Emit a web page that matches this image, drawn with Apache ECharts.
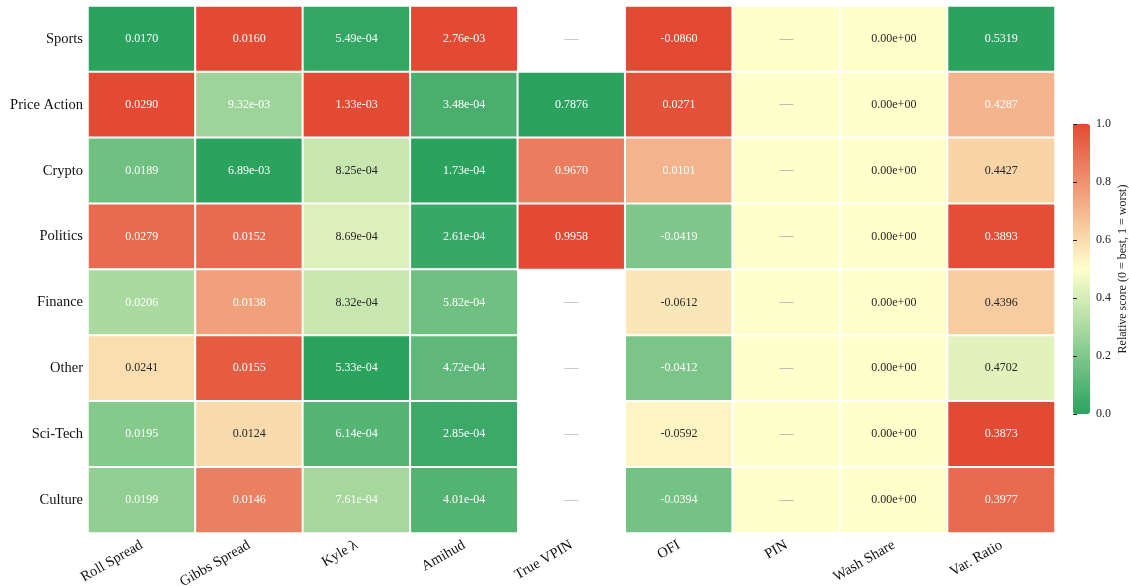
<!DOCTYPE html>
<html>
<head>
    <meta charset="utf-8">
    <title>Relative score heatmap</title>
    <script src="https://cdn.jsdelivr.net/npm/echarts@6/dist/echarts.min.js"></script>
    <style>
        html, body { margin: 0; padding: 0; background: #fff; }
        #chart { width: 1129px; height: 586px; }
    </style>
</head>
<body>
<div id="chart"></div>
<script>
    // rows / columns
    var categories = ['Sports', 'Price Action', 'Crypto', 'Politics', 'Finance', 'Other', 'Sci-Tech', 'Culture'];
    var metrics = ['Roll Spread', 'Gibbs Spread', 'Kyle λ', 'Amihud', 'True VPIN', 'OFI', 'PIN', 'Wash Share', 'Var. Ratio'];

    // printed values, one list per metric (null = no value)
    var rollSpread = ['0.0170', '0.0290', '0.0189', '0.0279', '0.0206', '0.0241', '0.0195', '0.0199'];
    var gibbsSpread = ['0.0160', '9.32e-03', '6.89e-03', '0.0152', '0.0138', '0.0155', '0.0124', '0.0146'];
    var kyleLambda = ['5.49e-04', '1.33e-03', '8.25e-04', '8.69e-04', '8.32e-04', '5.33e-04', '6.14e-04', '7.61e-04'];
    var amihud = ['2.76e-03', '3.48e-04', '1.73e-04', '2.61e-04', '5.82e-04', '4.72e-04', '2.85e-04', '4.01e-04'];
    var trueVpin = [null, '0.7876', '0.9670', '0.9958', null, null, null, null];
    var ofi = ['-0.0860', '0.0271', '0.0101', '-0.0419', '-0.0612', '-0.0412', '-0.0592', '-0.0394'];
    var pin = [null, null, null, null, null, null, null, null];
    var washShare = ['0.00e+00', '0.00e+00', '0.00e+00', '0.00e+00', '0.00e+00', '0.00e+00', '0.00e+00', '0.00e+00'];
    var varRatio = ['0.5319', '0.4287', '0.4427', '0.3893', '0.4396', '0.4702', '0.3873', '0.3977'];

    // relative scores (0 = best, 1 = worst)
    var rollScore = [0, 1, 0.16, 0.91, 0.30, 0.59, 0.21, 0.24];
    var gibbsScore = [1, 0.27, 0, 0.91, 0.76, 0.95, 0.60, 0.85];
    var kyleScore = [0.02, 1, 0.37, 0.42, 0.37, 0, 0.10, 0.29];
    var amihudScore = [1, 0.07, 0, 0.03, 0.16, 0.12, 0.04, 0.09];
    var vpinScore = [null, 0, 0.86, 1, null, null, null, null];
    var ofiScore = [1, 0.98, 0.71, 0.20, 0.57, 0.19, 0.53, 0.17];
    var pinScore = [0.5, 0.5, 0.5, 0.5, 0.5, 0.5, 0.5, 0.5];
    var washScore = [0.5, 0.5, 0.5, 0.5, 0.5, 0.5, 0.5, 0.5];
    var varRatioScore = [0, 0.71, 0.62, 0.99, 0.64, 0.43, 1, 0.91];

    var textCols = [rollSpread, gibbsSpread, kyleLambda, amihud, trueVpin, ofi, pin, washShare, varRatio];
    var scoreCols = [rollScore, gibbsScore, kyleScore, amihudScore, vpinScore, ofiScore, pinScore, washScore, varRatioScore];

    var FONT = '"Liberation Serif", "Times New Roman", "DejaVu Serif", serif';
    var DASH = '#a8a8a8';

    var heatData = [], missData = [];
    metrics.forEach(function (m, i) {
        categories.forEach(function (c, j) {
            var s = scoreCols[i][j], t = textCols[i][j];
            if (s == null) {
                missData.push({ value: [i, j], label: { color: DASH, fontSize: 14 } });
                return;
            }
            if (t == null) {
                heatData.push({ value: [i, j, s], label: { color: DASH, fontSize: 14 } });
                return;
            }
            var col = Math.abs(s - 0.5) > 0.17 ? '#ffffff' : '#262626';
            heatData.push({ value: [i, j, s], label: { color: col } });
        });
    });

    function cellLabel(p) {
        var t = textCols[p.value[0]][p.value[1]];
        return t == null ? '—' : t;
    }

    var chart = echarts.init(document.getElementById('chart'), null, { renderer: 'canvas' });
    chart.setOption({
        animation: false,
        textStyle: { fontFamily: FONT },
        grid: [
            { left: 88, right: 74, top: 6, bottom: 53, outerBoundsMode: 'none', containLabel: false },
            { left: 1073, width: 17, top: 124, height: 290, outerBoundsMode: 'none', containLabel: false }
        ],
        xAxis: [{
            type: 'category',
            data: metrics,
            gridIndex: 0,
            axisLine: { show: false },
            axisTick: { show: false },
            splitLine: { show: false },
            axisLabel: { rotate: 30, margin: 11, fontSize: 14.5, color: '#111', fontFamily: FONT, interval: 0 }
        }, {
            type: 'value',
            gridIndex: 1,
            show: false
        }],
        yAxis: [{
            type: 'category',
            data: categories,
            inverse: true,
            gridIndex: 0,
            axisLine: { show: false },
            axisTick: { show: false },
            splitLine: { show: false },
            axisLabel: { margin: 5, fontSize: 14.5, color: '#111', fontFamily: FONT }
        }, {
            type: 'value',
            gridIndex: 1,
            position: 'right',
            min: 0,
            max: 1,
            interval: 0.2,
            z: 10,
            axisLine: { show: false },
            axisTick: { show: true, inside: false, length: 4, lineStyle: { color: '#222', width: 1 } },
            splitLine: { show: false },
            axisLabel: {
                margin: 6, fontSize: 12, color: '#222', fontFamily: FONT,
                formatter: function (v) { return v.toFixed(1); }
            },
            name: 'Relative score (0 = best, 1 = worst)',
            nameLocation: 'middle',
            nameRotate: 90,
            nameGap: 27,
            nameTextStyle: { fontSize: 12, color: '#222', fontFamily: FONT }
        }],
        visualMap: {
            type: 'continuous',
            min: 0,
            max: 1,
            seriesIndex: 0,
            calculable: false,
            hoverLink: false,
            left: 1073,
            top: 124,
            padding: 0,
            itemWidth: 17,
            itemHeight: 290,
            text: ['', ''],
            showLabel: false,
            inRange: { color: ['#2ca25f', '#ffffcc', '#e34a33'] }
        },
        series: [{
            type: 'heatmap',
            xAxisIndex: 0,
            yAxisIndex: 0,
            data: heatData,
            itemStyle: { borderColor: '#ffffff', borderWidth: 2 },
            label: { show: true, fontSize: 12, fontFamily: FONT, formatter: cellLabel },
            emphasis: { disabled: true }
        }, {
            type: 'scatter',
            xAxisIndex: 0,
            yAxisIndex: 0,
            data: missData,
            symbol: 'rect',
            symbolSize: 1,
            itemStyle: { color: 'rgba(0,0,0,0)' },
            label: { show: true, position: 'inside', fontFamily: FONT, formatter: '—' },
            silent: true
        }]
    });
</script>
</body>
</html>
